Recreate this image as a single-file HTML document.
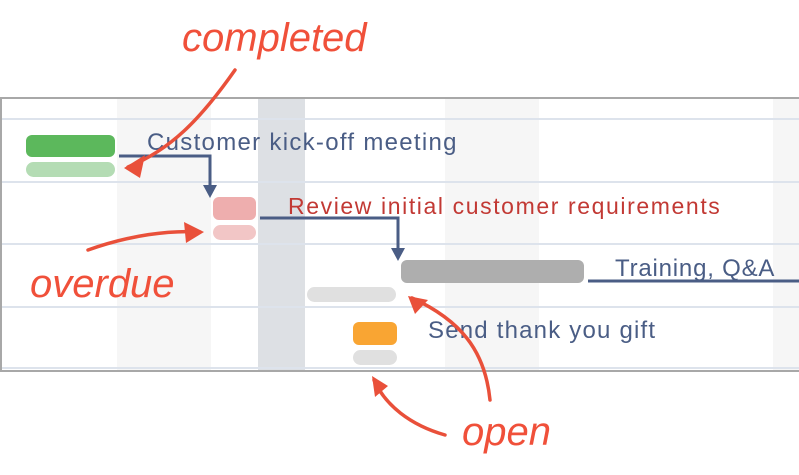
<!DOCTYPE html>
<html><head><style>
body{margin:0;width:799px;height:475px;background:#fff;overflow:hidden;position:relative;font-family:"Liberation Sans",sans-serif}
.a{position:absolute}
.t{position:absolute;font-size:24px;color:#4a5d85;white-space:nowrap}
.h{position:absolute;font-family:"Liberation Sans",sans-serif;font-style:italic;color:#f0503a;font-size:40px;white-space:nowrap}
.r{position:absolute;border-radius:6px}
</style></head><body>
<div class="a" style="left:0;top:97px;width:799px;height:275px;border:2px solid #a8a8a8;border-right:none;box-sizing:border-box"></div>
<div class="a" style="left:117px;top:99px;width:94px;height:271px;background:#f6f6f6"></div>
<div class="a" style="left:258px;top:99px;width:47px;height:271px;background:#dde0e4"></div>
<div class="a" style="left:445px;top:99px;width:94px;height:271px;background:#f6f6f6"></div>
<div class="a" style="left:773px;top:99px;width:26px;height:271px;background:#f6f6f6"></div>
<div class="a" style="left:2px;top:118px;width:797px;height:2px;background:#dde3ec"></div>
<div class="a" style="left:2px;top:181px;width:797px;height:2px;background:#dde3ec"></div>
<div class="a" style="left:2px;top:243px;width:797px;height:2px;background:#dde3ec"></div>
<div class="a" style="left:2px;top:306px;width:797px;height:2px;background:#dde3ec"></div>
<div class="a" style="left:2px;top:367px;width:797px;height:2px;background:#dde3ec"></div>
<div class="r" style="left:26px;top:135px;width:89px;height:22px;background:#5cb85c"></div>
<div class="r" style="left:26px;top:162px;width:89px;height:15px;background:#b4dcb4;border-radius:8px"></div>
<div class="r" style="left:213px;top:197px;width:43px;height:23px;background:#eeaeae"></div>
<div class="r" style="left:213px;top:225px;width:43px;height:15px;background:#f2c6c6;border-radius:8px"></div>
<div class="r" style="left:401px;top:260px;width:183px;height:23px;background:#aeaeae"></div>
<div class="r" style="left:307px;top:287px;width:89px;height:15px;background:#e0e0e0;border-radius:8px"></div>
<div class="r" style="left:353px;top:322px;width:44px;height:23px;background:#f9a533"></div>
<div class="r" style="left:353px;top:350px;width:44px;height:15px;background:#e0e0e0;border-radius:8px"></div>
<div class="t" style="left:147px;top:129px;letter-spacing:1.3px">Customer kick-off meeting</div>
<div class="t" style="left:288px;top:193px;color:#c23934;font-size:23px;letter-spacing:1.6px">Review initial customer requirements</div>
<div class="t" style="left:615px;top:255px;letter-spacing:0.8px">Training, Q&amp;A</div>
<div class="t" style="left:428px;top:317px;letter-spacing:1.2px">Send thank you gift</div>
<svg class="a" style="left:0;top:0" width="799" height="475">
<g stroke="#4a5d85" stroke-width="3" fill="none">
<path d="M119 156H210V186"/><path d="M260 218H398V250"/><path d="M588 281H799"/>
</g>
<g fill="#4a5d85"><path d="M203 185H217L210 198Z"/><path d="M391 248H405L398 261Z"/></g>
<g stroke="#e9503a" stroke-width="3.5" fill="none" stroke-linecap="round">
<path d="M235 70C200 120 170 150 128 167"/>
<path d="M88 250C130 235 170 230 200 232"/>
<path d="M490 400C485 350 460 320 412 298"/>
<path d="M445 435C410 425 385 405 374 380"/>
</g>
<g fill="#e9503a">
<path d="M124 168L145 155L140 178Z"/>
<path d="M204 232L184 222L186 243Z"/>
<path d="M408 296L428 300L415 314Z"/>
<path d="M372 376L375 397L388 386Z"/>
</g>
</svg>
<div class="h" style="left:182px;top:16px">completed</div>
<div class="h" style="left:30px;top:262px">overdue</div>
<div class="h" style="left:462px;top:410px">open</div>
</body></html>
